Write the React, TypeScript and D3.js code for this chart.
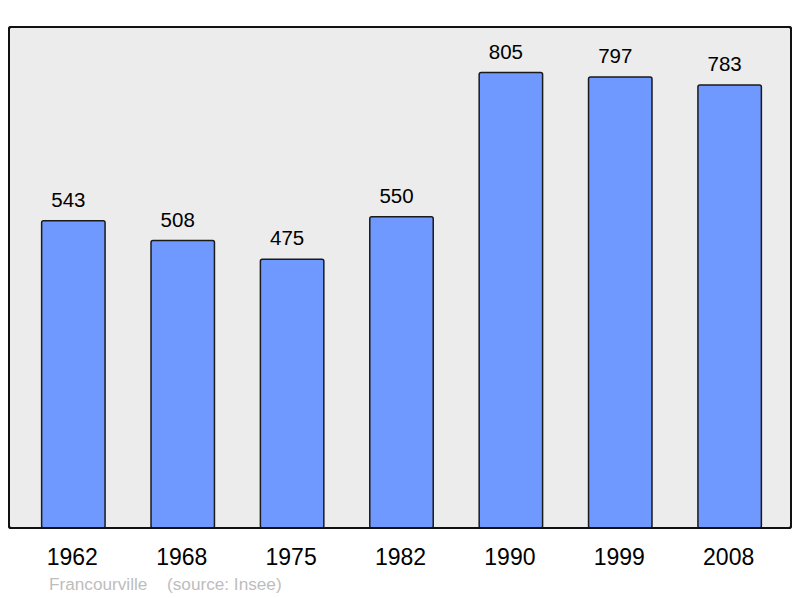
import React from 'react';
import * as d3 from 'd3';

const years = ['1962', '1968', '1975', '1982', '1990', '1999', '2008'];
const population = [543, 508, 475, 550, 805, 797, 783];
const town = 'Francourville';
const source = '(source: Insee)';

const width = 800;
const height = 598;

export default function App() {
  // plot frame
  const left = 9;
  const right = 791;
  const top = 27;
  const bottom = 528;

  const x = d3.scaleBand()
    .domain(years)
    .range([left + 2, right + 1])
    .paddingInner(0.42)
    .paddingOuter(0.28);

  const y = d3.scaleLinear()
    .domain([0, d3.max(population) * 1.1])
    .range([bottom, top]);

  const font = '"Liberation Sans", Arial, sans-serif';

  return (
    <svg width={width} height={height} style={{position: 'absolute', left: 0, top: 0}}>
      <rect x={left} y={top} width={right - left} height={bottom - top}
        rx={2} fill="#ececec" stroke="#111" strokeWidth={2} />
      {years.map((yr, i) => {
        const bx = x(yr);
        const by = y(population[i]);
        const cx = bx + x.bandwidth() / 2;
        return (
          <g key={yr}>
            <rect x={bx} y={by} width={x.bandwidth()} height={bottom - by}
              rx={2} fill="#7099ff" stroke="#1a1a1a" strokeWidth={1.5} />
            {/* value labels sit a little left of the bar centre */}
            <text x={cx - 5} y={by - 14} textAnchor="middle"
              fontFamily={font} fontSize={20.5} fill="#000">{population[i]}</text>
            <text x={cx - 1} y={565} textAnchor="middle"
              fontFamily={font} fontSize={23} fill="#000">{yr}</text>
          </g>
        );
      })}
      <rect x={left} y={top} width={right - left} height={bottom - top}
        rx={2} fill="none" stroke="#111" strokeWidth={2} />
      <text x={49} y={590} fontFamily={font} fontSize={17.2} fill="#bdbdbd">{town}</text>
      <text x={167} y={590} fontFamily={font} fontSize={17.2} fill="#bdbdbd">{source}</text>
    </svg>
  );
}
